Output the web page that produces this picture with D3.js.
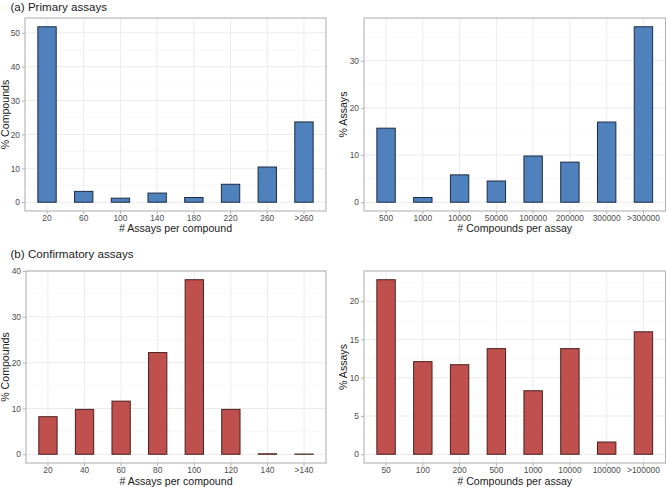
<!DOCTYPE html>
<html><head><meta charset="utf-8">
<script src="https://cdn.jsdelivr.net/npm/d3@7"></script>
<style>body{margin:0;background:#fff}svg{display:block}text{font-family:"Liberation Sans",Arial,sans-serif}</style>
</head><body><svg id="c" width="666" height="487"></svg>
<script>
const primCompCats = ["20","60","100","140","180","220","260",">260"];
const primCompVals = [51.8, 3.2, 1.2, 2.7, 1.4, 5.3, 10.4, 23.7];
const primAssayCats = ["500","1000","10000","50000","100000","200000","300000",">300000"];
const primAssayVals = [15.7, 1.0, 5.8, 4.5, 9.8, 8.5, 17.0, 37.2];
const confCompCats = ["20","40","60","80","100","120","140",">140"];
const confCompVals = [8.2, 9.8, 11.6, 22.2, 38.1, 9.8, 0.1, 0.05];
const confAssayCats = ["50","100","200","500","1000","10000","100000",">100000"];
const confAssayVals = [22.8, 12.1, 11.7, 13.8, 8.3, 13.8, 1.6, 16.0];
const ticksP1 = [0,10,20,30,40,50];
const ticksP2 = [0,10,20,30];
const ticksP3 = [0,10,20,30,40];
const ticksP4 = [0,5,10,15,20];

const svg = d3.select("#c");
const BLUE = "#4F81BD", BLUE_E = "#1C2B45", RED = "#C0504D", RED_E = "#4A1E1E";

function panel(o){
  const {x0,x1,y0,y1,cats,vals,ticks,fill,edge,xlab,ylab,ytx,xlabY} = o;
  const g = svg.append("g");
  const max = d3.max(vals);
  const y = d3.scaleLinear().domain([-0.05*max, max*1.05]).range([y1,y0]);
  const x = d3.scaleBand().domain(cats).range([x0,x1]).paddingInner(0.5).paddingOuter(0.35);
  const step = ticks[1]-ticks[0];
  const minors = [];
  for (let v = ticks[0]-step/2; v <= y.domain()[1]; v += step) if (v >= y.domain()[0]) minors.push(v);
  g.selectAll(".mn").data(minors).join("line")
    .attr("x1",x0).attr("x2",x1).attr("y1",d=>y(d)).attr("y2",d=>y(d))
    .attr("stroke","#F3F3F3").attr("stroke-width",0.6);
  g.selectAll(".mj").data(ticks).join("line")
    .attr("x1",x0).attr("x2",x1).attr("y1",d=>y(d)).attr("y2",d=>y(d))
    .attr("stroke","#EBEBEB").attr("stroke-width",1);
  g.selectAll(".vx").data(cats).join("line")
    .attr("x1",d=>x(d)+x.bandwidth()/2).attr("x2",d=>x(d)+x.bandwidth()/2).attr("y1",y0).attr("y2",y1)
    .attr("stroke","#EBEBEB").attr("stroke-width",1);
  g.selectAll(".bar").data(cats.map((c,i)=>({c,v:vals[i]}))).join("rect")
    .attr("x",d=>x(d.c)).attr("width",x.bandwidth())
    .attr("y",d=>y(d.v)).attr("height",d=>Math.max(0.01,y(0)-y(d.v)))
    .attr("fill",fill).attr("stroke",edge).attr("stroke-width",1);
  g.append("rect").attr("x",x0).attr("y",y0).attr("width",x1-x0).attr("height",y1-y0)
    .attr("fill","none").attr("stroke","#B3B3B3").attr("stroke-width",1.1);
  const ya = d3.axisLeft(y).tickValues(ticks).tickSize(3).tickPadding(2);
  const yg = g.append("g").attr("transform",`translate(${x0},0)`).call(ya);
  const xa = d3.axisBottom(x).tickSize(3).tickPadding(1);
  const xg = g.append("g").attr("transform",`translate(0,${y1})`).call(xa);
  [yg,xg].forEach(a=>{
    a.select(".domain").remove();
    a.selectAll(".tick line").attr("stroke","#B3B3B3");
    a.selectAll(".tick text").attr("fill","#4D4D4D").style("font-size","8.4px").style("font-family",'"Liberation Sans",Arial,sans-serif');
  });
  g.append("text").attr("x",(x0+x1)/2).attr("y",xlabY).attr("text-anchor","middle")
    .style("font-size","10.6px").attr("fill","#1a1a1a").text(xlab);
  g.append("text").attr("transform",`translate(${ytx},${(y0+y1)/2}) rotate(-90)`).attr("text-anchor","middle")
    .attr("dy","0.35em").style("font-size","10.6px").attr("fill","#1a1a1a").text(ylab);
}

panel({x0:25,x1:326,y0:18,y1:211,cats:primCompCats,vals:primCompVals,ticks:ticksP1,fill:BLUE,edge:BLUE_E,
  xlab:"# Assays per compound",ylab:"% Compounds",ytx:5.5,xlabY:231.5});
panel({x0:364,x1:665.5,y0:18,y1:211,cats:primAssayCats,vals:primAssayVals,ticks:ticksP2,fill:BLUE,edge:BLUE_E,
  xlab:"# Compounds per assay",ylab:"% Assays",ytx:343,xlabY:231.5});
panel({x0:26,x1:326,y0:271,y1:463,cats:confCompCats,vals:confCompVals,ticks:ticksP3,fill:RED,edge:RED_E,
  xlab:"# Assays per compound",ylab:"% Compounds",ytx:5.5,xlabY:484.5});
panel({x0:364,x1:665.5,y0:271,y1:463,cats:confAssayCats,vals:confAssayVals,ticks:ticksP4,fill:RED,edge:RED_E,
  xlab:"# Compounds per assay",ylab:"% Assays",ytx:343,xlabY:484.5});

svg.append("text").attr("x",10.5).attr("y",10.5).style("font-size","11.6px").attr("fill","#1a1a1a").text("(a) Primary assays");
svg.append("text").attr("x",10.5).attr("y",258).style("font-size","11.6px").attr("fill","#1a1a1a").text("(b) Confirmatory assays");
</script></body></html>
